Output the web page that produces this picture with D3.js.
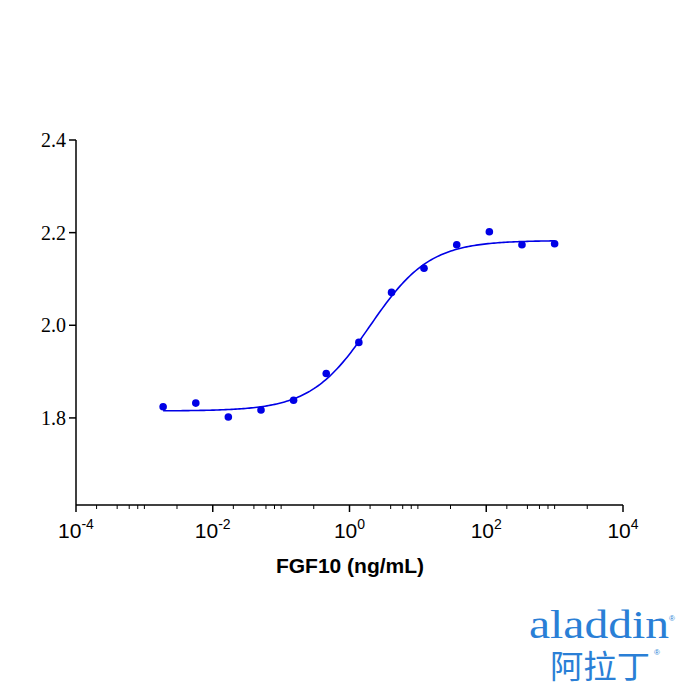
<!DOCTYPE html>
<html><head><meta charset="utf-8">
<script src="https://cdn.jsdelivr.net/npm/d3@7/dist/d3.min.js"></script>
<style>body{margin:0;background:#fff}</style></head>
<body><svg id="c" width="700" height="700"></svg>
<script>
const concentrations = [0.00188,0.00565,0.0169,0.0508,0.152,0.457,1.37,4.12,12.3,37.0,111,333,1000];
const responses = [1.824,1.832,1.802,1.817,1.838,1.896,1.963,2.071,2.123,2.174,2.202,2.174,2.176];
const fitParams = {bottom:1.815, top:2.183, ec50:2.0, hill:1.0};
const xTickExps = [-4,-2,0,2,4];
const yTicks = [1.8,2.0,2.2,2.4];
const xLabel = "FGF10 (ng/mL)";

const svg = d3.select("#c");
const x = d3.scaleLog().domain([1e-4,1e4]).range([76,623]);
const y = d3.scaleLinear().domain([1.612,2.4]).range([505,140]);
const blue = "#0000e6";

const ax = svg.append("g").attr("transform","translate(0,505)");
ax.append("line").attr("x1",76).attr("x2",623).attr("stroke","#000").attr("stroke-width",1.5);
xTickExps.forEach(e=>{
  const px=x(Math.pow(10,e));
  ax.append("line").attr("x1",px).attr("x2",px).attr("y1",0).attr("y2",7).attr("stroke","#000").attr("stroke-width",1.5);
  const t=ax.append("text").attr("x",px).attr("y",33).attr("text-anchor","middle")
    .attr("font-family","Liberation Sans, Arial").attr("font-size",21);
  t.append("tspan").text("10");
  t.append("tspan").attr("dy",-9).attr("font-size",14).text(e);
});
[-3,-1,1,3].forEach(e=>{
  [1,3].forEach(m=>{
    const px=x(m*Math.pow(10,e));
    ax.append("line").attr("x1",px).attr("x2",px).attr("y1",0).attr("y2",4).attr("stroke","#000");
  });
});
[2,4,6,8].forEach(m=>[-4,-2,0,2].forEach(e=>{
  const px=x(m*Math.pow(10,e)); ax.append("line").attr("x1",px).attr("x2",px).attr("y1",0).attr("y2",4).attr("stroke","#000");
}));
const ay = svg.append("g");
ay.append("line").attr("x1",76).attr("x2",76).attr("y1",140).attr("y2",505).attr("stroke","#000").attr("stroke-width",1.5);
yTicks.forEach(v=>{
  ay.append("line").attr("x1",69).attr("x2",76).attr("y1",y(v)).attr("y2",y(v)).attr("stroke","#000").attr("stroke-width",1.5);
  ay.append("text").attr("x",66).attr("y",y(v)+7).attr("text-anchor","end")
    .attr("font-family","Liberation Serif, Times New Roman").attr("font-size",20).text(v.toFixed(1));
});
svg.append("text").attr("x",350).attr("y",573).attr("text-anchor","middle")
  .attr("font-family","Liberation Sans, Arial").attr("font-weight","bold").attr("font-size",21).text(xLabel);

const f = c => fitParams.bottom + (fitParams.top-fitParams.bottom)/(1+Math.pow(fitParams.ec50/c,fitParams.hill));
const curve = d3.range(0,201).map(i=>{const lc=Math.log10(concentrations[0])+i/200*(Math.log10(1000)-Math.log10(concentrations[0]));return Math.pow(10,lc);});
svg.append("path").attr("d",d3.line().x(c=>x(c)).y(c=>y(f(c)))(curve))
  .attr("fill","none").attr("stroke",blue).attr("stroke-width",1.6);
svg.selectAll("circle.p").data(concentrations).enter().append("circle")
  .attr("cx",d=>x(d)).attr("cy",(d,i)=>y(responses[i])).attr("r",3.8).attr("fill",blue);

// logo
svg.append("text").attr("x",529).attr("y",638).attr("font-family","Liberation Serif, Times New Roman")
  .attr("font-size",40).attr("fill","#2a7fd6").attr("textLength",140).attr("lengthAdjust","spacingAndGlyphs").text("aladdin");
svg.append("text").attr("x",669).attr("y",621).attr("font-size",8).attr("fill","#2a7fd6").attr("font-family","Liberation Sans").text("®");
svg.append("text").attr("x",550).attr("y",678).attr("font-family","Noto Sans CJK SC")
  .attr("font-size",32).attr("fill","#2a7fd6").attr("textLength",100).attr("lengthAdjust","spacingAndGlyphs").text("阿拉丁");
svg.append("text").attr("x",654).attr("y",655).attr("font-size",8).attr("fill","#2a7fd6").attr("font-family","Liberation Sans").text("®");
</script></body></html>
